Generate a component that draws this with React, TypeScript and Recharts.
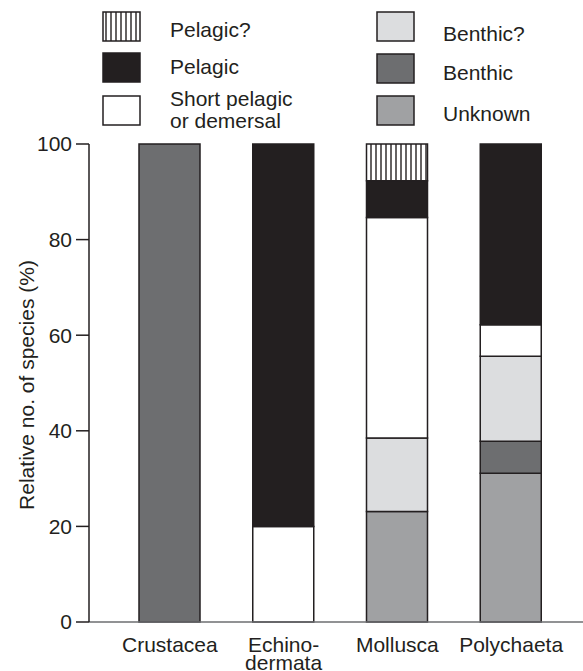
import React from 'react';
import { BarChart, Bar, XAxis, YAxis } from 'recharts';

// categories and stacked shares (%), bottom to top
const categories = ['Crustacea', 'Echino-\ndermata', 'Mollusca', 'Polychaeta'];
const unknown = [0, 0, 23.1, 31.1];
const benthic = [100, 0, 0, 6.7];
const benthicQ = [0, 0, 15.4, 17.8];
const shortPelagic = [0, 20, 46.1, 6.6];
const pelagic = [0, 80, 7.7, 37.8];
const pelagicQ = [0, 0, 7.7, 0];
const yTicks = [0, 20, 40, 60, 80, 100];

const INK = '#231f20';
const FONT = '"Liberation Sans", Arial, Helvetica, sans-serif';

const series = [
  { key: 'unknown', name: 'Unknown', fill: '#a0a1a3' },
  { key: 'benthic', name: 'Benthic', fill: '#6d6e70' },
  { key: 'benthicQ', name: 'Benthic?', fill: '#dcdddf' },
  { key: 'shortPelagic', name: 'Short pelagic\nor demersal', fill: '#ffffff' },
  { key: 'pelagic', name: 'Pelagic', fill: INK },
  { key: 'pelagicQ', name: 'Pelagic?', fill: 'url(#vhatch)' },
];

const data = categories.map((name, i) => ({
  name,
  unknown: unknown[i],
  benthic: benthic[i],
  benthicQ: benthicQ[i],
  shortPelagic: shortPelagic[i],
  pelagic: pelagic[i],
  pelagicQ: pelagicQ[i],
}));

// legend layout: two columns, three rows (marker top, text baseline)
const legendCols = [
  { mx: 103, tx: 170, keys: ['pelagicQ', 'pelagic', 'shortPelagic'], boxY: [12, 53, 96], textY: [37, 74, 106] },
  { mx: 377, tx: 443, keys: ['benthicQ', 'benthic', 'unknown'], boxY: [12, 54, 96], textY: [41, 80, 121] },
];

const Hatch = ({ id }: { id: string }) => (
  <pattern id={id} width={5} height={10} patternUnits="userSpaceOnUse">
    <rect width={5} height={10} fill="#fff" />
    <line x1={1} y1={0} x2={1} y2={10} stroke={INK} strokeWidth={1.4} />
  </pattern>
);

const Legend = () => (
  <svg width={583} height={140} style={{ position: 'absolute', left: 0, top: 0 }}>
    <defs>
      <Hatch id="vhatchLegend" />
    </defs>
    {legendCols.map((col) =>
      col.keys.map((key, r) => {
        const s = series.find((d) => d.key === key)!;
        const lines = s.name.split('\n');
        return (
          <g key={key}>
            <rect
              x={col.mx}
              y={col.boxY[r]}
              width={37}
              height={29}
              fill={s.key === 'pelagicQ' ? 'url(#vhatchLegend)' : s.fill}
              stroke={INK}
              strokeWidth={1.5}
            />
            <text fontFamily={FONT} fontSize={21} fill={INK}>
              {lines.map((l, k) => (
                <tspan key={k} x={col.tx} y={col.textY[r] + k * 22}>{l}</tspan>
              ))}
            </text>
          </g>
        );
      })
    )}
  </svg>
);

const XTick = (props: any) => {
  const { x, payload } = props;
  const lines = String(payload.value).split('\n');
  const base = 652;
  return (
    <text textAnchor="middle" fontFamily={FONT} fontSize={21} fill={INK}>
      {lines.map((l, k) => (
        <tspan key={k} x={x} y={base + k * 18}>{l}</tspan>
      ))}
    </text>
  );
};

const YLabel = (props: any) => {
  const vb = props.viewBox || { x: 0, y: 144, width: 89, height: 478 };
  const cx = 26;
  const cy = vb.y + vb.height / 2 + 2;
  return (
    <text
      x={cx}
      y={cy}
      transform={`rotate(-90, ${cx}, ${cy})`}
      textAnchor="middle"
      dominantBaseline="central"
      fontFamily={FONT}
      fontSize={21}
      fill={INK}
    >
      Relative no. of species (%)
    </text>
  );
};

export default function App() {
  return (
    <div style={{ position: 'absolute', left: 0, top: 0, width: 583, height: 671, background: '#fff' }}>
      <Legend />
      <BarChart
        width={583}
        height={671}
        data={data}
        margin={{ top: 144, right: 0, left: 0, bottom: 0 }}
        barSize={61}
      >
        <defs>
          <Hatch id="vhatch" />
        </defs>
        <XAxis
          dataKey="name"
          height={49}
          interval={0}
          padding={{ left: 24, right: 15 }}
          tickLine={false}
          axisLine={{ stroke: '#6d6e70', strokeWidth: 1.5 }}
          tick={<XTick />}
        />
        <YAxis
          width={89}
          domain={[0, 100]}
          ticks={yTicks}
          tickSize={13}
          tickMargin={4}
          axisLine={{ stroke: INK, strokeWidth: 1.5 }}
          tickLine={{ stroke: INK, strokeWidth: 1.5 }}
          tick={{ fill: INK, fontSize: 21, fontFamily: FONT }}
          label={<YLabel />}
        />
        {series.map((s) => (
          <Bar
            key={s.key}
            dataKey={s.key}
            name={s.name}
            stackId="a"
            fill={s.fill}
            stroke={INK}
            strokeWidth={1.5}
            isAnimationActive={false}
          />
        ))}
      </BarChart>
    </div>
  );
}
